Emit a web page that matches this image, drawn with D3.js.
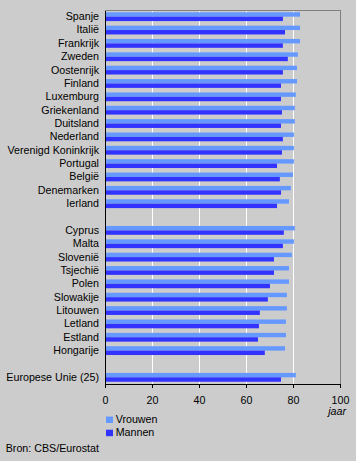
<!DOCTYPE html>
<html>
<head>
<meta charset="utf-8">
<script src="https://cdn.jsdelivr.net/npm/d3@7"></script>
<style>
  html, body { margin: 0; padding: 0; background: #cccccc; }
  svg { display: block; }
  text { font-family: "Liberation Sans", Arial, sans-serif; fill: #000; }
</style>
</head>
<body>
<svg id="chart" width="356" height="461"></svg>
<script>
// ---- data ----
const countriesOld = ["Spanje","Italië","Frankrijk","Zweden","Oostenrijk","Finland","Luxemburg","Griekenland","Duitsland","Nederland","Verenigd Koninkrijk","Portugal","België","Denemarken","Ierland"];
const womenOld = [83.0, 83.0, 83.0, 82.1, 81.7, 81.7, 81.2, 80.8, 80.8, 80.4, 80.4, 80.4, 80.0, 79.1, 78.3];
const menOld   = [75.7, 76.6, 75.7, 77.8, 75.7, 74.9, 74.9, 75.3, 74.9, 75.7, 75.3, 73.2, 74.4, 74.9, 73.2];

const countriesNew = ["Cyprus","Malta","Slovenië","Tsjechië","Polen","Slowakije","Litouwen","Letland","Estland","Hongarije"];
const womenNew = [80.8, 80.4, 79.5, 78.3, 78.3, 77.4, 77.4, 77.0, 77.0, 76.6];
const menNew   = [76.1, 75.7, 71.9, 71.9, 70.2, 69.3, 65.9, 65.5, 65.1, 68.0];

const countriesEU = ["Europese Unie (25)"];
const womenEU = [81.2];
const menEU   = [74.9];

const seriesNames = ["Vrouwen", "Mannen"];
const seriesColors = ["#6699ff", "#3333ff"];
const xTicks = [0, 20, 40, 60, 80, 100];
const unitLabel = "jaar";
const sourceLabel = "Bron: CBS/Eurostat";

// ---- build table ----
const rows = [];
function addGroup(names, w, m) {
  names.forEach((n, i) => rows.push({ name: n, values: [w[i], m[i]] }));
}
addGroup(countriesOld, womenOld, menOld);
addGroup(countriesNew, womenNew, menNew);
addGroup(countriesEU, womenEU, menEU);

const slots = [...countriesOld, "_gap1", ...countriesNew, "_gap2", ...countriesEU];

// ---- layout ----
const plotLeft = 105, plotRight = 340, plotTop = 10, plotBottom = 384;
const svg = d3.select("#chart");
const fs = "10.7px";

const x = d3.scaleLinear().domain([0, 100]).range([plotLeft, plotRight]);
const y = d3.scaleBand().domain(slots).range([plotTop, plotBottom])
  .paddingInner(0.34).paddingOuter(0.17);
const ySub = d3.scaleBand().domain(seriesNames).range([0, y.bandwidth()]);

// gridlines
svg.append("g").selectAll("line")
  .data(xTicks.filter(t => t > 0 && t < 100))
  .join("line")
  .attr("x1", d => x(d)).attr("x2", d => x(d))
  .attr("y1", plotTop).attr("y2", plotBottom)
  .attr("stroke", "#ffffff").attr("stroke-width", 1)
  .attr("shape-rendering", "crispEdges");

// frame top/right
svg.append("path")
  .attr("d", `M${plotLeft},${plotTop + 0.5}H${plotRight + 0.5}V${plotBottom}`)
  .attr("fill", "none").attr("stroke", "#808080").attr("stroke-width", 1)
  .attr("shape-rendering", "crispEdges");

// bars
const groups = svg.append("g").selectAll("g")
  .data(rows).join("g")
  .attr("transform", d => `translate(0,${y(d.name)})`);
groups.selectAll("rect")
  .data(d => d.values.map((v, i) => ({ key: seriesNames[i], v, c: seriesColors[i] })))
  .join("rect")
  .attr("x", x(0))
  .attr("y", d => ySub(d.key))
  .attr("width", d => x(d.v) - x(0))
  .attr("height", ySub.bandwidth())
  .attr("fill", d => d.c);

// y axis
const yAxis = d3.axisLeft(y)
  .tickValues(slots.filter(s => !s.startsWith("_gap")))
  .tickSize(0).tickPadding(6);
const gy = svg.append("g").attr("transform", `translate(${plotLeft},0)`).call(yAxis);
gy.select(".domain").attr("stroke", "#000").attr("shape-rendering", "crispEdges");
gy.selectAll("text").style("font-size", fs).attr("fill", "#000");

// x axis
const xAxis = d3.axisBottom(x).tickValues(xTicks).tickSize(4).tickSizeOuter(0).tickPadding(8);
const gx = svg.append("g").attr("transform", `translate(0,${plotBottom})`).call(xAxis);
gx.select(".domain").attr("stroke", "#000").attr("shape-rendering", "crispEdges");
gx.selectAll(".tick line").attr("stroke", "#000").attr("shape-rendering", "crispEdges");
gx.selectAll("text").style("font-size", fs).attr("fill", "#000");

// unit label
svg.append("text")
  .attr("x", 346).attr("y", 415)
  .attr("text-anchor", "end")
  .style("font-size", fs).style("font-style", "italic")
  .text(unitLabel);

// legend
const legend = svg.append("g").selectAll("g")
  .data(seriesNames).join("g")
  .attr("transform", (d, i) => `translate(106,${416.5 + i * 13.2})`);
legend.append("rect").attr("width", 7).attr("height", 6.5)
  .attr("fill", (d, i) => seriesColors[i]);
legend.append("text").attr("x", 9.7).attr("y", 6.6)
  .style("font-size", fs).text(d => d);

// source
svg.append("text").attr("x", 5.7).attr("y", 452.3)
  .style("font-size", fs).text(sourceLabel);
</script>
</body>
</html>
